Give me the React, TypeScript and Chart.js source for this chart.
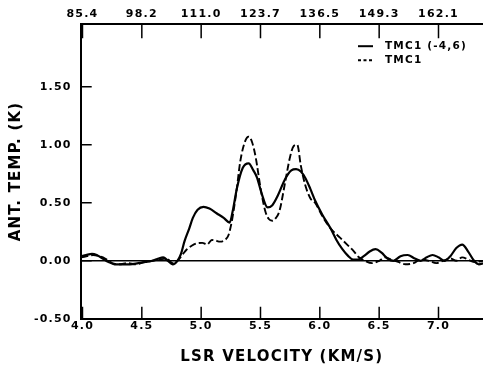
import React, { useEffect, useRef } from 'react';
import { Chart, registerables } from 'chart.js';

Chart.register(...registerables);

const FONT = '"DejaVu Sans", sans-serif';

// Axis ticks
const xTicks = [4.0, 4.5, 5.0, 5.5, 6.0, 6.5, 7.0];
const topTickLabels = ['85.4', '98.2', '111.0', '123.7', '136.5', '149.3', '162.1'];
const yTicks = [-0.5, 0, 0.5, 1.0, 1.5];

// Series labels
const seriesLabels = ['TMC1 (-4,6)', 'TMC1'];

// Solid: TMC1 (-4,6)
const solidV = [3.99, 4.03, 4.08, 4.12, 4.17, 4.22, 4.27, 4.33, 4.40, 4.47, 4.53, 4.59, 4.64, 4.68, 4.72, 4.76, 4.80, 4.83, 4.86, 4.90, 4.93, 4.97, 5.02, 5.07, 5.13, 5.19, 5.24, 5.27, 5.30, 5.35, 5.40, 5.44, 5.47, 5.51, 5.56, 5.60, 5.64, 5.71, 5.76, 5.80, 5.84, 5.88, 5.92, 5.96, 6.02, 6.09, 6.14, 6.19, 6.24, 6.28, 6.32, 6.37, 6.42, 6.47, 6.52, 6.57, 6.62, 6.68, 6.74, 6.80, 6.85, 6.90, 6.95, 7.00, 7.05, 7.10, 7.15, 7.20, 7.25, 7.30, 7.34, 7.38];
const solidT = [0.04, 0.05, 0.06, 0.05, 0.02, -0.01, -0.03, -0.03, -0.03, -0.02, -0.01, 0.0, 0.02, 0.03, 0.0, -0.03, 0.0, 0.06, 0.17, 0.28, 0.37, 0.44, 0.465, 0.45, 0.41, 0.37, 0.33, 0.45, 0.62, 0.80, 0.84, 0.78, 0.72, 0.58, 0.46, 0.48, 0.55, 0.71, 0.78, 0.79, 0.77, 0.71, 0.62, 0.52, 0.40, 0.28, 0.18, 0.10, 0.04, 0.01, 0.01, 0.04, 0.08, 0.10, 0.07, 0.02, 0.0, 0.04, 0.05, 0.02, 0.0, 0.03, 0.05, 0.03, 0.0, 0.04, 0.11, 0.14, 0.08, 0.0, -0.03, -0.02];

// Dashed: TMC1
const dashV = [3.99, 4.04, 4.09, 4.14, 4.19, 4.25, 4.31, 4.38, 4.45, 4.52, 4.59, 4.65, 4.71, 4.76, 4.80, 4.84, 4.88, 4.92, 4.96, 5.01, 5.05, 5.09, 5.12, 5.16, 5.20, 5.23, 5.26, 5.30, 5.33, 5.37, 5.40, 5.43, 5.46, 5.50, 5.54, 5.57, 5.60, 5.63, 5.66, 5.71, 5.75, 5.78, 5.81, 5.84, 5.875, 5.92, 5.96, 6.03, 6.09, 6.17, 6.23, 6.28, 6.33, 6.38, 6.44, 6.50, 6.55, 6.60, 6.66, 6.72, 6.79, 6.85, 6.92, 6.98, 7.04, 7.10, 7.15, 7.20, 7.25, 7.30, 7.38];
const dashT = [0.03, 0.04, 0.05, 0.04, 0.02, -0.02, -0.03, -0.02, -0.03, -0.01, 0.0, 0.01, 0.02, -0.02, 0.0, 0.05, 0.10, 0.13, 0.15, 0.155, 0.14, 0.18, 0.175, 0.165, 0.18, 0.22, 0.35, 0.62, 0.86, 1.03, 1.07, 1.02, 0.89, 0.63, 0.43, 0.36, 0.345, 0.37, 0.43, 0.69, 0.90, 0.99, 1.0, 0.82, 0.66, 0.54, 0.50, 0.37, 0.28, 0.20, 0.14, 0.09, 0.03, 0.0, -0.02, 0.0, 0.03, 0.01, -0.01, -0.03, -0.02, 0.01, 0.0, -0.02, 0.0, 0.02, 0.0, 0.03, 0.01, -0.01, 0.0];

const X_MIN = 3.985;
const X_MAX = 7.375;
const Y_MIN = -0.5;
const Y_MAX = 2.04;

const spacingPlugin = {
  id: 'letterSpacing',
  beforeUpdate(chart: any) { chart.ctx.letterSpacing = '1.2px'; },
  beforeDraw(chart: any) { chart.ctx.letterSpacing = '1.2px'; },
};

// Inward tick marks (from the scales' own ticks) and the inside legend
const overlayPlugin = {
  id: 'overlay',
  afterDraw(chart: any) {
    const ctx = chart.ctx;
    const area = chart.chartArea;
    const sx = chart.scales['x'];
    const sx2 = chart.scales['x2'];
    const sy = chart.scales['y'];

    ctx.save();
    ctx.strokeStyle = '#000';
    ctx.lineWidth = 1.5;
    ctx.setLineDash([]);
    ctx.beginPath();
    (sx.ticks || []).forEach((t: any) => {
      const px = sx.getPixelForValue(t.value);
      ctx.moveTo(px, area.bottom);
      ctx.lineTo(px, area.bottom - 12);
    });
    (sx2.ticks || []).forEach((t: any) => {
      const px = sx2.getPixelForValue(t.value);
      ctx.moveTo(px, area.top);
      ctx.lineTo(px, area.top + 14);
    });
    (sy.ticks || []).forEach((t: any) => {
      const py = sy.getPixelForValue(t.value);
      ctx.moveTo(area.left, py);
      ctx.lineTo(area.left + 11, py);
    });
    ctx.stroke();
    ctx.restore();

    chart.data.datasets.forEach((ds: any, i: number) => {
      const y = area.top + 22 + i * 14;
      const x0 = area.right - 125;
      ctx.save();
      ctx.strokeStyle = ds.borderColor;
      ctx.lineWidth = 2;
      ctx.setLineDash(i === 0 ? [] : [3, 2.5]);
      ctx.beginPath();
      ctx.moveTo(x0, y);
      ctx.lineTo(x0 + 15, y);
      ctx.stroke();
      ctx.setLineDash([]);
      ctx.font = `bold 10.5px ${FONT}`;
      ctx.fillStyle = '#000';
      ctx.textBaseline = 'middle';
      ctx.textAlign = 'left';
      ctx.fillText(ds.label, x0 + 27, y);
      ctx.restore();
    });
  },
};

const tickFont = { family: FONT, size: 11, weight: 'bold' as const };
const titleFont = { family: FONT, size: 15, weight: 'bold' as const };

export default function App() {
  const ref = useRef<HTMLCanvasElement | null>(null);

  useEffect(() => {
    document.body.style.margin = '0';
    if (!ref.current) return;
    const chart = new Chart(ref.current, {
      type: 'line',
      data: {
        datasets: [
          {
            label: seriesLabels[0],
            data: solidV.map((v, i) => ({ x: v, y: solidT[i] })),
            borderColor: '#000',
            borderWidth: 2.2,
            pointRadius: 0,
            cubicInterpolationMode: 'monotone',
            fill: false,
          },
          {
            label: seriesLabels[1],
            data: dashV.map((v, i) => ({ x: v, y: dashT[i] })),
            borderColor: '#000',
            borderWidth: 1.9,
            borderDash: [7, 3],
            pointRadius: 0,
            cubicInterpolationMode: 'monotone',
            fill: false,
          },
        ],
      },
      options: {
        responsive: false,
        animation: false,
        devicePixelRatio: 1,
        layout: { padding: { top: 5, left: 3, right: 0, bottom: 0 } },
        plugins: { legend: { display: false }, tooltip: { enabled: false } },
        scales: {
          x: {
            type: 'linear',
            position: 'bottom',
            min: X_MIN,
            max: X_MAX,
            afterBuildTicks: (s: any) => { s.ticks = xTicks.map((v) => ({ value: v })); },
            ticks: {
              padding: 1,
              color: '#000',
              font: tickFont,
              autoSkip: false,
              maxRotation: 0,
              callback: (v: any) => Number(v).toFixed(1),
            },
            grid: { drawOnChartArea: false, drawTicks: false },
            border: { display: true, color: '#000', width: 2 },
            title: {
              display: true,
              text: 'LSR VELOCITY (KM/S)',
              color: '#000',
              font: titleFont,
              padding: { top: 14, bottom: 2 },
            },
          },
          x2: {
            type: 'linear',
            position: 'top',
            min: X_MIN,
            max: X_MAX,
            afterBuildTicks: (s: any) => { s.ticks = xTicks.map((v) => ({ value: v })); },
            ticks: {
              padding: 3,
              color: '#000',
              font: tickFont,
              autoSkip: false,
              maxRotation: 0,
              callback: (_v: any, i: number) => topTickLabels[i],
            },
            grid: { drawOnChartArea: false, drawTicks: false },
            border: { display: true, color: '#000', width: 2 },
          },
          y: {
            type: 'linear',
            min: Y_MIN,
            max: Y_MAX,
            afterBuildTicks: (s: any) => { s.ticks = yTicks.map((v) => ({ value: v })); },
            ticks: {
              padding: 9,
              color: '#000',
              font: tickFont,
              callback: (v: any) => Number(v).toFixed(2),
            },
            grid: {
              drawOnChartArea: true,
              drawTicks: false,
              color: (c: any) => (c.tick && c.tick.value === 0 ? '#000' : 'rgba(0,0,0,0)'),
              lineWidth: 1.5,
            },
            border: { display: true, color: '#000', width: 2 },
            title: {
              display: true,
              text: 'ANT. TEMP. (K)',
              color: '#000',
              font: titleFont,
              padding: { top: 4, bottom: 0 },
            },
          },
        },
      },
      plugins: [spacingPlugin, overlayPlugin],
    } as any);
    return () => chart.destroy();
  }, []);

  return <canvas ref={ref} width={483} height={368} style={{ display: 'block' }} />;
}
